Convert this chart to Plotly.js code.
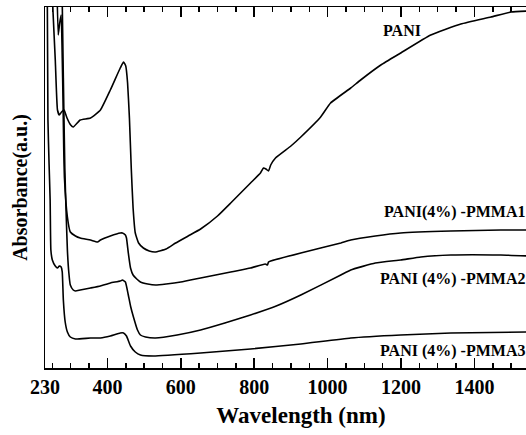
<!DOCTYPE html>
<html>
<head>
<meta charset="utf-8">
<script src="https://cdn.plot.ly/plotly-3.0.1.min.js"></script>
<style>html,body{margin:0;padding:0;background:#fff;overflow:hidden;}#chart{width:557px;height:435px;}</style>
</head>
<body>
<div id="chart"></div>
<script>
// Wavelength (nm) and absorbance (a.u.)
const paniX = [245, 252, 258, 264, 269, 275, 282, 290, 300, 307, 326, 354, 381, 408, 435, 444, 450, 455, 460, 465, 470, 476, 485, 498, 514, 530, 560, 586, 620, 654, 700, 736, 790, 817, 825, 832, 839, 845, 858, 900, 927, 981, 1008, 1063, 1090, 1145, 1199, 1281, 1363, 1445, 1500, 1548];
const paniY = [4.2, 3.55, 3.08, 2.58, 2.53, 2.56, 2.58, 2.50, 2.43, 2.41, 2.48, 2.50, 2.58, 2.78, 3.00, 3.06, 3.02, 2.85, 2.50, 2.00, 1.60, 1.35, 1.25, 1.20, 1.17, 1.16, 1.19, 1.25, 1.32, 1.39, 1.52, 1.65, 1.85, 1.95, 2.00, 1.99, 1.97, 2.03, 2.10, 2.22, 2.31, 2.51, 2.65, 2.80, 2.88, 3.03, 3.15, 3.33, 3.44, 3.51, 3.56, 3.57];

const pmma1X = [262, 266, 270, 274, 277, 279, 281, 283, 291, 299, 313, 326, 354, 373, 381, 408, 435, 441, 449, 452, 457, 463, 470, 480, 490, 510, 531, 560, 600, 654, 736, 790, 830, 836, 839, 845, 927, 1036, 1063, 1130, 1199, 1336, 1472, 1548];
const pmma1Y = [3.9, 3.33, 3.45, 3.53, 3.1, 2.7, 2.2, 1.9, 1.51, 1.36, 1.32, 1.30, 1.28, 1.26, 1.28, 1.32, 1.35, 1.35, 1.33, 1.30, 1.15, 1.00, 0.93, 0.89, 0.86, 0.84, 0.83, 0.84, 0.86, 0.90, 0.96, 1.00, 1.04, 1.03, 1.06, 1.07, 1.15, 1.25, 1.28, 1.32, 1.35, 1.37, 1.38, 1.38];

const pmma2X = [276, 280, 284, 288, 291, 295, 299, 307, 313, 326, 354, 381, 408, 435, 441, 449, 457, 463, 471, 482, 490, 504, 531, 590, 654, 720, 790, 860, 927, 1036, 1063, 1130, 1199, 1254, 1336, 1472, 1548];
const pmma2Y = [3.9, 2.9, 2.0, 1.5, 1.18, 0.95, 0.83, 0.78, 0.77, 0.78, 0.80, 0.82, 0.85, 0.87, 0.88, 0.86, 0.73, 0.62, 0.51, 0.38, 0.33, 0.31, 0.30, 0.33, 0.38, 0.45, 0.53, 0.62, 0.73, 0.93, 0.98, 1.05, 1.08, 1.11, 1.13, 1.13, 1.12];

const pmma3X = [236, 238, 241, 244, 246, 250, 258, 264, 269, 274, 277, 280, 285, 291, 299, 313, 354, 381, 408, 435, 444, 452, 463, 476, 490, 525, 654, 790, 927, 1063, 1199, 1336, 1548];
const pmma3Y = [3.9, 2.48, 2.05, 1.68, 1.18, 1.08, 1.02, 1.00, 1.02, 1.01, 0.96, 0.68, 0.46, 0.36, 0.31, 0.29, 0.30, 0.30, 0.32, 0.35, 0.35, 0.32, 0.22, 0.16, 0.13, 0.12, 0.15, 0.19, 0.24, 0.30, 0.33, 0.35, 0.36];

const seriesNames = ["PANI", "PANI(4%) -PMMA1", "PANI (4%) -PMMA2", "PANI (4%) -PMMA3"];
const tickVals = [230, 400, 600, 800, 1000, 1200, 1400];
const tickText = ["230", "400", "600", "800", "1000", "1200", "1400"];

const serif = "'Liberation Serif', 'Times New Roman', serif";
const line = {color: "#000", width: 1.6, shape: "spline", smoothing: 0.4};
const data = [
  {x: paniX, y: paniY, name: seriesNames[0]},
  {x: pmma1X, y: pmma1Y, name: seriesNames[1]},
  {x: pmma2X, y: pmma2Y, name: seriesNames[2]},
  {x: pmma3X, y: pmma3Y, name: seriesNames[3]}
].map(t => Object.assign(t, {type: "scatter", mode: "lines", line: line, showlegend: false}));

const annFont = {family: serif, size: 16, color: "#000", weight: "bold"};
const layout = {
  width: 557, height: 435,
  margin: {l: 45, r: 0, t: 7, b: 67},
  showlegend: false,
  xaxis: {
    range: [230, 1625],
    layer: "above traces",
    tickmode: "array", tickvals: tickVals, ticktext: tickText,
    ticks: "inside", ticklen: 10, tickwidth: 1.5, tickcolor: "#000",
    minor: {dtick: 50, ticks: "inside", ticklen: 5, tickwidth: 1.5, tickcolor: "#000", showgrid: false},
    showline: true, linecolor: "#000", linewidth: 1.5, mirror: "allticks",
    showgrid: false, zeroline: false,
    tickfont: {family: serif, size: 20, color: "#000", weight: "bold"},
    title: {text: "Wavelength (nm)", font: {family: serif, size: 23, color: "#000", weight: "bold"}, standoff: 10}
  },
  yaxis: {
    range: [0, 3.61],
    showticklabels: false, ticks: "",
    showline: true, linecolor: "#000", linewidth: 1.5, mirror: false,
    showgrid: false, zeroline: false,
    title: {text: "Absorbance(a.u.)", font: {family: serif, size: 20, color: "#000", weight: "bold"}, standoff: 10}
  },
  annotations: [
    {text: seriesNames[0], xref: "x", yref: "y", x: 1204, y: 3.38, xanchor: "center", yanchor: "middle", showarrow: false, font: annFont},
    {text: seriesNames[1], xref: "x", yref: "y", x: 1543, y: 1.56, xanchor: "right", yanchor: "middle", showarrow: false, font: annFont},
    {text: seriesNames[2], xref: "x", yref: "y", x: 1543, y: 0.89, xanchor: "right", yanchor: "middle", showarrow: false, font: annFont},
    {text: seriesNames[3], xref: "x", yref: "y", x: 1543, y: 0.17, xanchor: "right", yanchor: "middle", showarrow: false, font: annFont}
  ]
};
Plotly.newPlot("chart", data, layout, {displayModeBar: false, staticPlot: true});
</script>
</body>
</html>
